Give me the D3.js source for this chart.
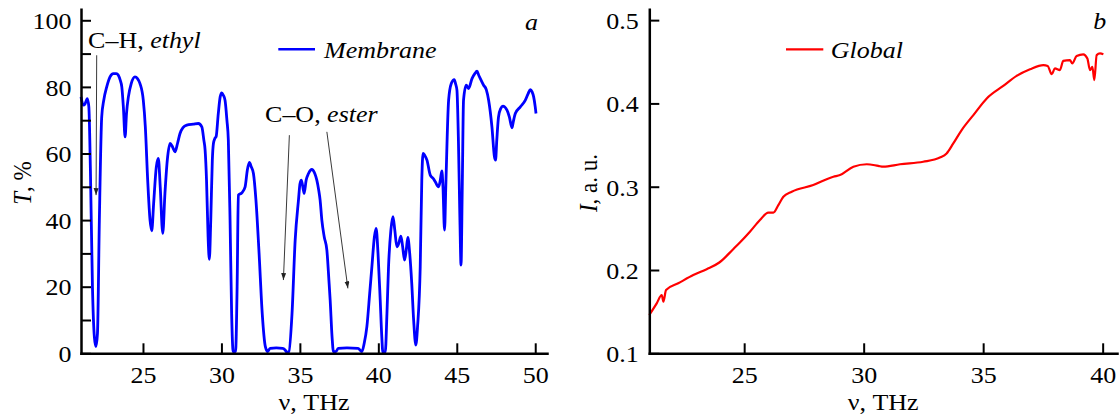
<!DOCTYPE html>
<html>
<head>
<meta charset="utf-8">
<script src="https://cdn.jsdelivr.net/npm/d3@7"></script>
<style>
html,body{margin:0;padding:0;background:#fff;}
svg{display:block;}
text{white-space:pre;}
</style>
</head>
<body>
<svg id="chart" width="1119" height="416"></svg>
<script>
// ---------- DATA ----------
const membraneNu = [21.05,21.2,21.3,21.45,21.55,21.65,21.78,21.9,22.0,22.1,22.22,22.37,22.5,22.69,22.9,23.11,23.3,23.43,23.55,23.65,23.75,23.86,23.95,24.07,24.25,24.49,24.65,24.81,25.02,25.15,25.3,25.45,25.56,25.68,25.85,25.98,26.1,26.26,26.4,26.55,26.73,26.88,27.04,27.2,27.36,27.55,27.79,28.21,28.53,28.75,28.88,28.96,29.05,29.15,29.23,29.32,29.42,29.49,29.58,29.66,29.8,29.92,30.02,30.12,30.23,30.35,30.44,30.55,30.65,30.75,30.9,31.0,31.08,31.3,31.51,31.65,31.78,31.9,32.04,32.2,32.4,32.6,32.8,32.95,33.1,33.5,33.9,34.06,34.17,34.3,34.5,34.7,34.91,35.01,35.1,35.27,35.4,35.55,35.76,35.95,36.08,36.2,36.29,36.4,36.55,36.72,36.85,36.93,37.05,37.14,37.3,37.44,38.0,38.7,38.95,39.1,39.27,39.45,39.59,39.75,39.86,39.98,40.12,40.22,40.29,40.44,40.55,40.65,40.8,40.93,41.05,41.18,41.3,41.44,41.55,41.67,41.78,41.88,42.0,42.13,42.25,42.39,42.5,42.67,42.77,42.85,42.95,43.1,43.31,43.5,43.63,43.84,43.95,44.05,44.12,44.22,44.3,44.48,44.65,44.84,44.92,45.01,45.1,45.2,45.27,45.35,45.43,45.6,45.75,45.97,46.15,46.29,46.4,46.5,46.71,46.88,47.03,47.24,47.4,47.47,47.55,47.66,47.8,47.94,48.2,48.35,48.52,48.6,48.73,49.05,49.37,49.55,49.69,49.8,49.9,50.0,50.05];
const membraneT = [77,74.5,74.8,76.5,74,55,20,5,2,6,40,71,76,80,83,84,84,83.5,82,80,74,65,72,77,81,83,82.5,81,76,68,52,40,36.8,45,56,58.5,50,36,48,58,63,62,60.5,63,66,67.8,68.5,68.8,69,68,64,61,52,35,28.2,40,58,63,64.5,65,72,77,78.2,77.5,76,70,64,40,12,0.5,0.5,20,47.5,48.2,50,55,57.3,56,54,46,30,12,2,0.5,1.5,1.6,1.5,1,0.3,0.5,12,34,46,51,52,48,52,54,55.2,54,52,49,46,40,35,31,22,16,5,0.5,0.5,1.5,1.6,1.5,0.5,3,8,18,26,35,37.5,30,16,5,0.3,0.3,12,26,37,41,37,32,33,35.2,32,28,31,34.8,30,21,10,2.5,8,26,52,60,59.5,58,53.5,52.5,51.5,50,52,54.8,50,37,50,76,81,82.2,81,79,65,40,26.5,50,76,80.5,79.5,82.5,84,84.7,83.5,82.5,80.5,79.2,76,68,59,58,64,71,73.5,74.2,73,71,67.7,69.5,72,74,76,78,79.2,78.5,77,74,72];

const globalNu = [21.03,21.34,21.55,21.62,21.73,22.24,22.87,23.43,23.96,24.54,24.82,25.24,25.66,26.01,26.22,26.43,26.64,26.99,27.89,28.73,29.01,29.57,30.13,30.61,30.82,31.52,32.49,33.19,33.47,33.75,34.1,34.59,35.15,35.84,36.4,36.96,37.52,37.7,37.87,38.0,38.21,38.35,38.63,38.73,38.91,39.19,39.36,39.47,39.57,39.65,39.75,39.89,40.03];
const globalI = [0.146,0.160,0.170,0.162,0.176,0.184,0.194,0.201,0.209,0.225,0.233,0.246,0.260,0.269,0.269,0.278,0.288,0.294,0.302,0.312,0.314,0.324,0.327,0.325,0.324,0.327,0.330,0.335,0.340,0.352,0.368,0.386,0.406,0.421,0.433,0.441,0.446,0.445,0.435,0.442,0.440,0.451,0.452,0.448,0.457,0.459,0.454,0.440,0.444,0.428,0.458,0.460,0.459];

const leftXTicks = [25,30,35,40,45,50];
const leftYTicks = [0,20,40,60,80,100];
const leftYMinor = [10,30,50,70,90];
const rightXTicks = [25,30,35,40];
const rightYTicks = [0.1,0.2,0.3,0.4,0.5];

const seriesNames = ["Membrane","Global"];
const panelLetters = ["a","b"];
// annotations in data units: [label normal part, italic part, text nu, text T]
const annoText = [["C–H, ","ethyl",21.5,91.6],["C–O, ","ester",32.78,69.5]];
// arrows: [nu0, T0, nu1, T1]
const annoArrows = [[22.05,89.5,22.01,47.5],[34.33,65.5,33.95,22],[36.72,66.5,38.06,19.5]];

// ---------- SETUP ----------
const FONT = "'Liberation Serif','Times New Roman',Times,serif";
const FS = 23, SX = 1.13;
const INK = "#000";
const svg = d3.select("#chart");
svg.append("rect").attr("width",1119).attr("height",416).attr("fill","#fff");

const defs = svg.append("defs");
defs.append("marker").attr("id","arr").attr("markerUnits","userSpaceOnUse")
  .attr("markerWidth",8).attr("markerHeight",6).attr("refX",7).attr("refY",2.5)
  .attr("orient","auto")
  .append("path").attr("d","M0,0L7,2.5L0,5Z").attr("fill","#222");

function txt(parent, x, y, parts, anchor="start", rotate=false) {
  const t = parent.append("text")
    .attr("transform", rotate ? `translate(${x},${y}) rotate(-90) scale(1,${SX})` : `translate(${x},${y}) scale(${SX},1)`)
    .attr("text-anchor", anchor).attr("font-family", FONT).attr("font-size", FS).attr("fill",INK);
  parts.forEach(([s,it]) => t.append("tspan").text(s).attr("font-style", it ? "italic" : "normal"));
  return t;
}

function styleAxis(g) {
  g.attr("font-family", FONT).attr("font-size", FS);
  g.select(".domain").attr("stroke",INK).attr("stroke-width",2.5).attr("stroke-linecap","square");
  g.selectAll(".tick line").attr("stroke",INK).attr("stroke-width",2);
  g.selectAll(".tick text").attr("fill",INK);
}

// ---------- LEFT PANEL ----------
const xL = d3.scaleLinear([21.05, 50.75], [81, 547]);
const yL = d3.scaleLinear([0, 103.3], [353.3, 9.3]);
const gL = svg.append("g");

gL.append("path")
  .datum(membraneNu.map((v,i)=>[v, membraneT[i]]))
  .attr("fill","none").attr("stroke","#0000ff").attr("stroke-width",2.8).attr("stroke-linejoin","round")
  .attr("d", d3.line().x(d=>xL(d[0])).y(d=>yL(d[1])).curve(d3.curveMonotoneX));

const axLx = gL.append("g").attr("transform",`translate(0,${yL(0)})`)
  .call(d3.axisBottom(xL).tickValues(leftXTicks).tickSize(-10).tickSizeOuter(0).tickFormat(d3.format("d")));
styleAxis(axLx);
axLx.selectAll(".tick text").attr("y",0).attr("dy",null).attr("transform",`translate(0,29.5) scale(${SX},1)`);

const axLyMinor = gL.append("g").attr("transform",`translate(${xL.range()[0]},0)`)
  .call(d3.axisLeft(yL).tickValues(leftYMinor).tickSize(-10).tickSizeOuter(0).tickFormat(""));
axLyMinor.select(".domain").remove();
axLyMinor.selectAll(".tick line").attr("stroke",INK).attr("stroke-width",2);

const axLy = gL.append("g").attr("transform",`translate(${xL.range()[0]},0)`)
  .call(d3.axisLeft(yL).tickValues(leftYTicks).tickSize(-10).tickSizeOuter(0).tickFormat(d3.format("d")));
styleAxis(axLy);
axLy.selectAll(".tick text").attr("x",0).attr("dy",null).attr("text-anchor","end")
  .attr("transform",`translate(-9.5,8.3) scale(${SX},1)`);

// annotations
annoText.forEach(([a,b,v,t]) => txt(gL, xL(v), yL(t), [[a,false],[b,true]]));
annoArrows.forEach(([v0,t0,v1,t1]) => gL.append("line")
  .attr("x1",xL(v0)).attr("y1",yL(t0)).attr("x2",xL(v1)).attr("y2",yL(t1))
  .attr("stroke","#222").attr("stroke-width",0.9).attr("marker-end","url(#arr)"));

// legend
gL.append("line").attr("x1",278.3).attr("x2",315).attr("y1",49.3).attr("y2",49.3)
  .attr("stroke","#0000ff").attr("stroke-width",2.4);
txt(gL, 324, 58.3, [[seriesNames[0],true]]);
txt(gL, 525, 30, [[panelLetters[0],true]]);

// axis titles
txt(gL, (xL.range()[0]+xL.range()[1])/2, 410, [["ν, THz",false]], "middle");
txt(gL, 31, 183, [["T",true],[", %",false]], "middle", true);

// ---------- RIGHT PANEL ----------
const xR = d3.scaleLinear([21.03, 40.6], [649.3, 1117]);
const yR = d3.scaleLinear([0.1, 0.513], [353.3, 9.3]);
const gR = svg.append("g");

gR.append("path")
  .datum(globalNu.map((v,i)=>[v, globalI[i]]))
  .attr("fill","none").attr("stroke","#ff0000").attr("stroke-width",2.2).attr("stroke-linejoin","round")
  .attr("d", d3.line().x(d=>xR(d[0])).y(d=>yR(d[1])).curve(d3.curveMonotoneX));

const axRx = gR.append("g").attr("transform",`translate(0,${yR(0.1)})`)
  .call(d3.axisBottom(xR).tickValues(rightXTicks).tickSize(-10).tickSizeOuter(0).tickFormat(d3.format("d")));
styleAxis(axRx);
axRx.selectAll(".tick text").attr("y",0).attr("dy",null).attr("transform",`translate(0,29.5) scale(${SX},1)`);

const axRy = gR.append("g").attr("transform",`translate(${xR.range()[0]},0)`)
  .call(d3.axisLeft(yR).tickValues(rightYTicks).tickSize(-10).tickSizeOuter(0).tickFormat(d3.format(".1f")));
styleAxis(axRy);
axRy.selectAll(".tick text").attr("x",0).attr("dy",null).attr("text-anchor","end")
  .attr("transform",`translate(-10.5,8.3) scale(${SX},1)`);

gR.append("line").attr("x1",786).attr("x2",823.3).attr("y1",49.3).attr("y2",49.3)
  .attr("stroke","#ff0000").attr("stroke-width",2.2);
txt(gR, 830.7, 58.3, [[seriesNames[1],true]]);
txt(gR, 1093.3, 29.3, [[panelLetters[1],true]]);

txt(gR, (xR.range()[0]+xR.range()[1])/2, 410, [["ν, THz",false]], "middle");
txt(gR, 597, 183, [["I",true],[", a. u.",false]], "middle", true);
</script>
</body>
</html>
